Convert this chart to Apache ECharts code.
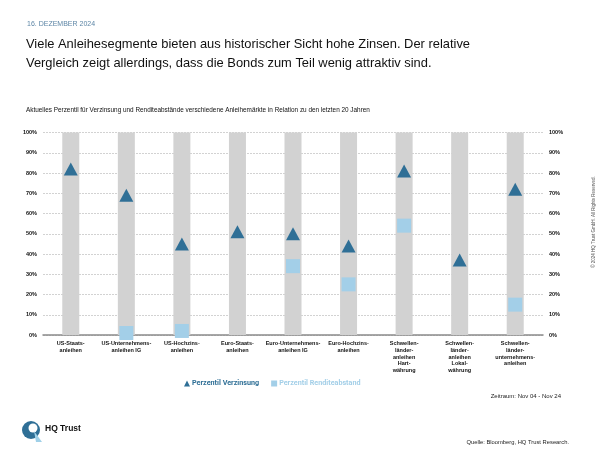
<!DOCTYPE html>
<html>
<head>
<meta charset="utf-8">
<script src="https://cdn.jsdelivr.net/npm/echarts@6/dist/echarts.min.js"></script>
<style>html,body{margin:0;padding:0;background:#fff;}#c{width:600px;height:450px;}</style>
</head>
<body>
<div id="c"></div>
<script>
const categories = [
  "US-Staats-\nanleihen",
  "US-Unternehmens-\nanleihen IG",
  "US-Hochzins-\nanleihen",
  "Euro-Staats-\nanleihen",
  "Euro-Unternehmens-\nanleihen IG",
  "Euro-Hochzins-\nanleihen",
  "Schwellen-\nländer-\nanleihen\nHart-\nwährung",
  "Schwellen-\nländer-\nanleihen\nLokal-\nwährung",
  "Schwellen-\nländer-\nunternehmens-\nanleihen"
];
const verzinsung = [82, 69, 45, 51, 50, 44, 81, 37, 72];
const renditeabstand = [null, 1, 2, null, 34, 25, 54, null, 15];
const backgroundBars = [100, 100, 100, 100, 100, 100, 100, 100, 100];

const FONT = "'Liberation Sans', Arial, sans-serif";
const LEGFONT = "'Roboto', sans-serif";
const chart = echarts.init(document.getElementById('c'), null, {renderer: 'canvas'});
chart.setOption({
  backgroundColor: '#fff',
  animation: false,
  textStyle: {fontFamily: FONT},
  title: [
    {text: '16. DEZEMBER 2024', left: 22, top: 16, textStyle: {fontSize: 7, fontWeight: 'normal', color: '#5d86a6', fontFamily: FONT}},
    {text: 'Viele Anleihesegmente bieten aus historischer Sicht hohe Zinsen. Der relative\nVergleich zeigt allerdings, dass die Bonds zum Teil wenig attraktiv sind.',
      left: 21, top: 30, textStyle: {fontSize: 12.9, fontWeight: 'normal', color: '#111', lineHeight: 19, fontFamily: FONT}},
    {text: 'Aktuelles Perzentil für Verzinsung und Renditeabstände verschiedene Anleihemärkte in Relation zu den letzten 20 Jahren',
      left: 21, top: 102, textStyle: {fontSize: 6.4, fontWeight: 'normal', color: '#111', fontFamily: FONT}},
    {text: 'Zeitraum: Nov 04 - Nov 24', right: 34, top: 388, textStyle: {fontSize: 6, fontWeight: 'normal', color: '#222', fontFamily: FONT}},
    {text: 'Quelle: Bloomberg, HQ Trust Research.', right: 26, top: 434, textStyle: {fontSize: 5.8, fontWeight: 'normal', color: '#222', fontFamily: FONT}}
  ],
  graphic: [
    {type: 'text', x: 594, y: 222, rotation: Math.PI / 2, style: {text: '© 2024 HQ Trust GmbH. All Rights Reserved.', fontSize: 4.5, fill: '#555', align: 'center', verticalAlign: 'middle', fontFamily: FONT}},
    {type: 'circle', shape: {cx: 31, cy: 430, r: 9}, style: {fill: '#2f6f96'}},
    {type: 'circle', shape: {cx: 33, cy: 428, r: 4.5}, style: {fill: '#ffffff'}},
    {type: 'polygon', shape: {points: [[34, 431], [42, 442], [36, 442]]}, style: {fill: '#9fd0e8'}},
    {type: 'text', x: 45, y: 429, style: {text: 'HQ Trust', fontSize: 8.5, fontWeight: 'bold', fill: '#111', verticalAlign: 'middle', fontFamily: FONT}}
  ],
  legend: {
    left: 179, top: 375, itemWidth: 6, itemHeight: 6, itemGap: 12,
    textStyle: {fontSize: 7.2, fontWeight: 'bold', fontFamily: LEGFONT, padding: [0, 0, 0, -3]},
    data: [
      {name: 'Perzentil Verzinsung', icon: 'triangle', textStyle: {color: '#2f6f96'}},
      {name: 'Perzentil Renditeabstand', icon: 'rect', textStyle: {color: '#a3cfe8'}}
    ]
  },
  grid: {left: 43, right: 57, top: 132.5, bottom: 115},
  xAxis: {
    type: 'category', data: categories,
    axisTick: {show: false},
    axisLine: {lineStyle: {color: '#8a8a8a', width: 1.5}},
    axisLabel: {interval: 0, fontSize: 5.5, fontWeight: 'bold', color: '#111', lineHeight: 6.8, margin: 5, fontFamily: FONT}
  },
  yAxis: [
    {type: 'value', min: 0, max: 100, interval: 10, position: 'left',
      axisLabel: {formatter: '{value}%', fontSize: 5.5, fontWeight: 'bold', color: '#111', margin: 6, fontFamily: FONT},
      splitLine: {lineStyle: {color: '#c6c6c6', type: [2, 1], width: 0.8}},
      axisLine: {show: false}, axisTick: {show: false}},
    {type: 'value', min: 0, max: 100, interval: 10, position: 'right',
      axisLabel: {formatter: '{value}%', fontSize: 5.5, fontWeight: 'bold', color: '#111', margin: 6, fontFamily: FONT},
      splitLine: {show: false}, axisLine: {show: false}, axisTick: {show: false}}
  ],
  series: [
    {type: 'bar', name: 'bg', data: backgroundBars, barWidth: 17, silent: true, itemStyle: {color: '#d2d2d2'}, z: 1},
    {type: 'scatter', name: 'Perzentil Renditeabstand', data: renditeabstand, symbol: 'rect', symbolSize: 14, itemStyle: {color: '#a3cfe8', opacity: 1}, z: 3},
    {type: 'scatter', name: 'Perzentil Verzinsung', data: verzinsung, symbol: 'triangle', symbolSize: [14, 13], itemStyle: {color: '#2f6f96', opacity: 1}, z: 4}
  ]
});
</script>
</body>
</html>
